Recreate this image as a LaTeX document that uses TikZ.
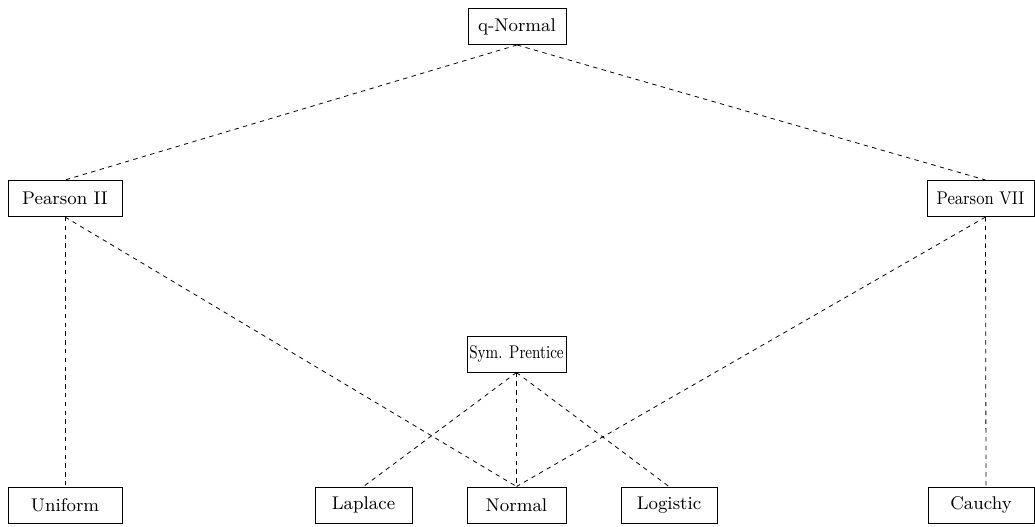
\documentclass[tikz,border=0pt]{standalone}
\begin{document}
\begin{tikzpicture}[x=0.5pt,y=-0.5pt,
  box/.style={draw, line width=0.5pt, minimum height=18pt, inner sep=0pt, font=\fontsize{9.2}{11}\selectfont},
  link/.style={line width=0.4pt, dash pattern=on 2.2pt off 2.2pt}]
\useasboundingbox (0,0) rectangle (1035,526);
\node[box, minimum width=49pt] (qn) at (517,26.5) {q-Normal};
\node[box, minimum width=57pt] (p2) at (65,198.5) {Pearson II};
\node[box, minimum width=53.5pt] (p7) at (980.5,198.5) {\scalebox{0.88}[1]{Pearson VII}};
\node[box, minimum width=49.5pt] (sp) at (516.5,354) {\scalebox{0.8}[1]{Sym. Prentice}};
\node[box, minimum width=57pt] (un) at (65,505) {Uniform};
\node[box, minimum width=48.5pt] (la) at (363.5,505) {Laplace};
\node[box, minimum width=49.5pt] (no) at (516.5,505) {Normal};
\node[box, minimum width=48pt] (lo) at (669,505) {Logistic};
\node[box, minimum width=53pt] (ca) at (981,505) {Cauchy};
\draw[link] (qn.south) -- (p2.north);
\draw[link] (qn.south) -- ([xshift=2.5pt]p7.north);
\draw[link] (p2.south) -- (un.north);
\draw[link] (p2.south) -- (no.north);
\draw[link] ([xshift=2.5pt]p7.south) -- (no.north);
\draw[link] ([xshift=2.5pt]p7.south) -- ([xshift=2.5pt]ca.north);
\draw[link] (sp.south) -- (la.north);
\draw[link] (sp.south) -- (no.north);
\draw[link] (sp.south) -- (lo.north);
\end{tikzpicture}
\end{document}
